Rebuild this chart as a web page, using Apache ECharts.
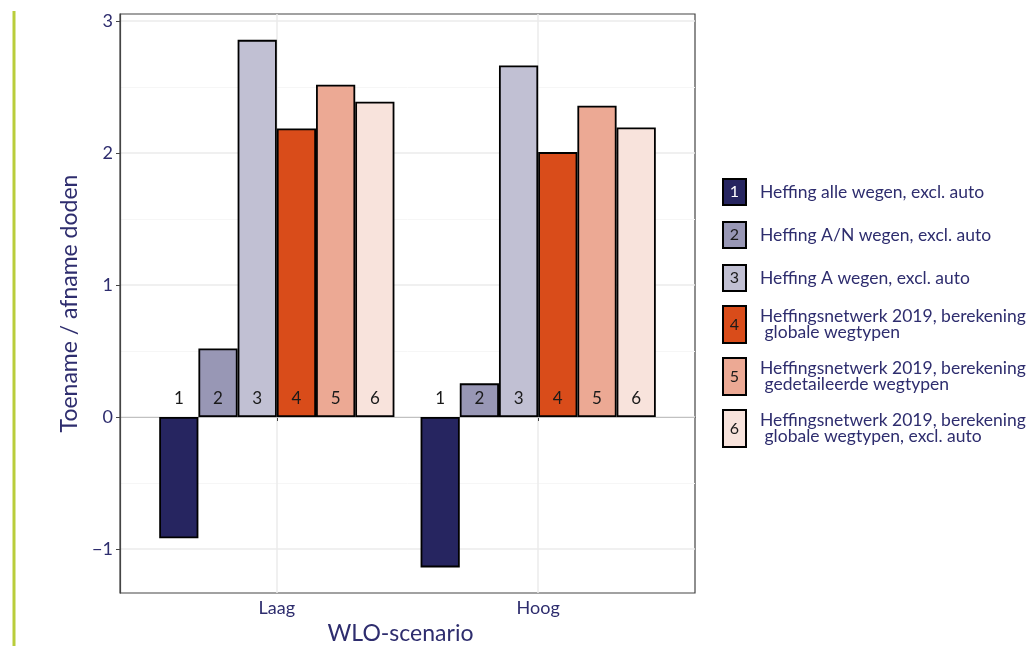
<!DOCTYPE html>
<html>
<head>
<meta charset="utf-8">
<script src="https://cdn.jsdelivr.net/npm/echarts@6/dist/echarts.min.js"></script>
<style>
html,body{margin:0;padding:0;background:#fff;}
#chart{width:1029px;height:646px;}
</style>
</head>
<body>
<div id="chart"></div>
<script>
const categories = ['Laag', 'Hoog'];
const seriesNames = [
  'Heffing alle wegen, excl. auto',
  'Heffing A/N wegen, excl. auto',
  'Heffing A wegen, excl. auto',
  'Heffingsnetwerk 2019, berekening\n globale wegtypen',
  'Heffingsnetwerk 2019, berekening\n gedetaileerde wegtypen',
  'Heffingsnetwerk 2019, berekening\n globale wegtypen, excl. auto'
];
const seriesLabels = ['1', '2', '3', '4', '5', '6'];
const values1 = [-0.919, -1.139];
const values2 = [0.520, 0.255];
const values3 = [2.857, 2.663];
const values4 = [2.186, 2.007];
const values5 = [2.517, 2.358];
const values6 = [2.388, 2.194];
const yTicks = [-1, 0, 1, 2, 3];
const yMinorTicks = [-0.5, 0.5, 1.5, 2.5];
const yMin = -1.333, yMax = 3.053;

const allValues = [values1, values2, values3, values4, values5, values6];
const colors = ['#262560', '#9897b5', '#c1c0d3', '#d94c1a', '#eca994', '#f8e3dc'];
const labelColors = ['#ffffff', '#1a1a1a', '#1a1a1a', '#1a1a1a', '#1a1a1a', '#1a1a1a'];
const textColor = '#2e2d6e';
const font = 'Lato, "Noto Sans", sans-serif';

// layout
const pLeft = 120, pRight = 695, pTop = 14, pBottom = 593;
const pW = pRight - pLeft;
const xMin = 0.4, xMax = 2.6;
const unit = pW / (xMax - xMin);
const barLeft = pLeft + (1 - xMin) * unit - unit / 2;

const chart = echarts.init(document.getElementById('chart'), null, {renderer: 'canvas'});

const series = allValues.map((vals, i) => ({
  name: seriesNames[i],
  type: 'bar',
  xAxisIndex: 1,
  yAxisIndex: 2,
  data: vals,
  barGap: '0%',
  barCategoryGap: '10%',
  itemStyle: {color: colors[i], borderColor: '#000', borderWidth: 1.8},
  label: {
    show: true,
    position: i === 0 ? 'top' : 'insideBottom',
    distance: 10,
    formatter: () => seriesLabels[i],
    color: '#1a1a1a',
    fontSize: 17,
    fontFamily: font
  },
  emphasis: {disabled: true}
}));

const borderW = 2;
const legendA = {topPos: 178, h: 26, gap: 15, idx: [0, 1, 2]};
const legendB = {topPos: 305, h: 37, gap: 13, idx: [3, 4, 5]};
const legendX = 722, legendIconW = 23;

function makeLegend(L) {
  return {
    show: true,
    orient: 'vertical',
    left: legendX,
    top: L.topPos,
    padding: 0,
    itemWidth: legendIconW,
    itemHeight: L.h,
    itemGap: L.gap,
    icon: 'rect',
    selectedMode: false,
    data: L.idx.map(i => seriesNames[i]),
    itemStyle: {borderColor: '#000', borderWidth: borderW},
    textStyle: {color: textColor, fontSize: 17.5, fontFamily: font, lineHeight: 16, padding: [0, 0, 0, 9]}
  };
}

const legendNumberGraphics = [];
[legendA, legendB].forEach(L => {
  L.idx.forEach((si, k) => {
    legendNumberGraphics.push({
      type: 'text',
      x: legendX + legendIconW / 2 + borderW / 2,
      y: L.topPos + borderW / 2 + L.h / 2 + k * (L.h + borderW + L.gap),
      z: 100,
      style: {text: seriesLabels[si], fill: labelColors[si], fontSize: 16, fontFamily: font, align: 'center', verticalAlign: 'middle'}
    });
  });
});

const option = {
  backgroundColor: '#fff',
  animation: false,
  textStyle: {fontFamily: font},
  grid: [
    {left: pLeft, top: pTop, width: pW, height: pBottom - pTop, show: true, borderColor: '#444', borderWidth: 1.2, backgroundColor: 'transparent', containLabel: false, outerBoundsMode: 'none'},
    {left: barLeft, top: pTop, width: 2 * unit, height: pBottom - pTop, containLabel: false, outerBoundsMode: 'none'}
  ],
  xAxis: [
    {
      type: 'value', gridIndex: 0, min: xMin, max: xMax,
      name: 'WLO-scenario', nameLocation: 'middle', nameGap: 29,
      nameTextStyle: {color: textColor, fontSize: 23, fontFamily: font, padding: [0, 14, 0, 0]},
      axisLine: {show: true, lineStyle: {color: '#444', width: 1.2}},
      axisTick: {show: true, length: 4, customValues: [1, 2], lineStyle: {color: '#444'}},
      axisLabel: {show: true, customValues: [1, 2], margin: 6, color: textColor, fontSize: 18, fontFamily: font,
        formatter: v => categories[Math.round(v) - 1]},
      splitLine: {show: true, lineStyle: {color: '#ebebeb', width: 1.5}}
    },
    {
      type: 'category', gridIndex: 1, data: categories, show: false
    }
  ],
  yAxis: [
    {
      type: 'value', gridIndex: 0, min: yMin, max: yMax,
      name: 'Toename / afname doden', nameLocation: 'middle', nameGap: 35,
      nameTextStyle: {color: textColor, fontSize: 23, fontFamily: font},
      axisLine: {show: true, lineStyle: {color: '#444', width: 1.2}},
      axisTick: {show: true, length: 4, customValues: yTicks, lineStyle: {color: '#444'}},
      axisLabel: {show: true, customValues: yTicks, margin: 7, color: textColor, fontSize: 18, fontFamily: font,
        formatter: v => (v < 0 ? '\u2212' + Math.abs(v) : String(v))},
      splitLine: {show: true, lineStyle: {color: '#ebebeb', width: 1.5}},
      z: 1
    },
    {
      type: 'value', gridIndex: 0, min: yMin, max: yMax, position: 'left',
      axisLine: {show: false},
      axisTick: {show: false, customValues: yMinorTicks},
      axisLabel: {show: false},
      splitLine: {show: true, lineStyle: {color: '#f6f6f6', width: 1}},
      z: 0
    },
    {
      type: 'value', gridIndex: 1, min: yMin, max: yMax, show: false,
      splitLine: {show: false}
    }
  ],
  legend: [makeLegend(legendA), makeLegend(legendB)],
  graphic: [
    {type: 'line', shape: {x1: 14, y1: 11, x2: 14, y2: 646}, style: {stroke: '#b9cd3b', lineWidth: 3}, z: 10}
  ].concat(legendNumberGraphics),
  series: series
};

chart.setOption(option);
</script>
</body>
</html>
